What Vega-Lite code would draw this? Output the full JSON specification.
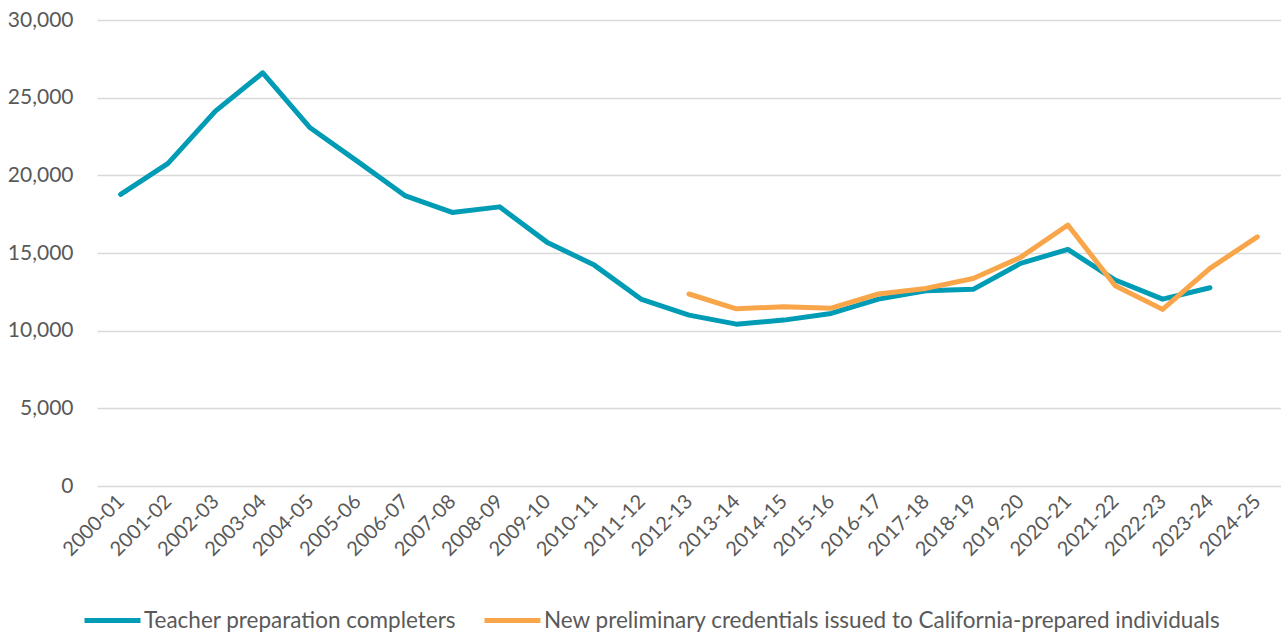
{
  "$schema": "https://vega.github.io/schema/vega-lite/v6.json",
  "width": 1184,
  "height": 466,
  "autosize": {"type": "none"},
  "padding": {"left": 97, "top": 20, "right": 0, "bottom": 147},
  "background": "white",
  "config": {
    "view": {"stroke": null},
    "font": "Lato",
    "axis": {"labelFont": "Lato", "labelColor": "#595959", "labelFontSize": 21},
    "legend": {"labelFont": "Lato", "labelColor": "#595959", "labelFontSize": 22.5}
  },
  "data": {
    "values": [
      {"year": "2000-01", "series": "Teacher preparation completers", "value": 18770},
      {"year": "2001-02", "series": "Teacher preparation completers", "value": 20770},
      {"year": "2002-03", "series": "Teacher preparation completers", "value": 24130},
      {"year": "2003-04", "series": "Teacher preparation completers", "value": 26600},
      {"year": "2004-05", "series": "Teacher preparation completers", "value": 23060},
      {"year": "2005-06", "series": "Teacher preparation completers", "value": 20900},
      {"year": "2006-07", "series": "Teacher preparation completers", "value": 18700},
      {"year": "2007-08", "series": "Teacher preparation completers", "value": 17610},
      {"year": "2008-09", "series": "Teacher preparation completers", "value": 17970},
      {"year": "2009-10", "series": "Teacher preparation completers", "value": 15700},
      {"year": "2010-11", "series": "Teacher preparation completers", "value": 14220},
      {"year": "2011-12", "series": "Teacher preparation completers", "value": 12010},
      {"year": "2012-13", "series": "Teacher preparation completers", "value": 11000},
      {"year": "2013-14", "series": "Teacher preparation completers", "value": 10420},
      {"year": "2014-15", "series": "Teacher preparation completers", "value": 10680},
      {"year": "2015-16", "series": "Teacher preparation completers", "value": 11110},
      {"year": "2016-17", "series": "Teacher preparation completers", "value": 12030},
      {"year": "2017-18", "series": "Teacher preparation completers", "value": 12570},
      {"year": "2018-19", "series": "Teacher preparation completers", "value": 12660},
      {"year": "2019-20", "series": "Teacher preparation completers", "value": 14330},
      {"year": "2020-21", "series": "Teacher preparation completers", "value": 15230},
      {"year": "2021-22", "series": "Teacher preparation completers", "value": 13260},
      {"year": "2022-23", "series": "Teacher preparation completers", "value": 12030},
      {"year": "2023-24", "series": "Teacher preparation completers", "value": 12760},
      {"year": "2012-13", "series": "New preliminary credentials issued to California-prepared individuals", "value": 12360},
      {"year": "2013-14", "series": "New preliminary credentials issued to California-prepared individuals", "value": 11410},
      {"year": "2014-15", "series": "New preliminary credentials issued to California-prepared individuals", "value": 11540},
      {"year": "2015-16", "series": "New preliminary credentials issued to California-prepared individuals", "value": 11450},
      {"year": "2016-17", "series": "New preliminary credentials issued to California-prepared individuals", "value": 12360},
      {"year": "2017-18", "series": "New preliminary credentials issued to California-prepared individuals", "value": 12720},
      {"year": "2018-19", "series": "New preliminary credentials issued to California-prepared individuals", "value": 13360},
      {"year": "2019-20", "series": "New preliminary credentials issued to California-prepared individuals", "value": 14720},
      {"year": "2020-21", "series": "New preliminary credentials issued to California-prepared individuals", "value": 16800},
      {"year": "2021-22", "series": "New preliminary credentials issued to California-prepared individuals", "value": 12890},
      {"year": "2022-23", "series": "New preliminary credentials issued to California-prepared individuals", "value": 11370},
      {"year": "2023-24", "series": "New preliminary credentials issued to California-prepared individuals", "value": 14010},
      {"year": "2024-25", "series": "New preliminary credentials issued to California-prepared individuals", "value": 16040}
    ]
  },
  "mark": {"type": "line", "strokeWidth": 5, "strokeCap": "round", "strokeJoin": "round"},
  "encoding": {
    "x": {
      "field": "year",
      "type": "ordinal",
      "sort": null,
      "scale": {"type": "point", "padding": 0.5},
      "axis": {
        "title": null,
        "labelAngle": -45,
        "labelAlign": "right",
        "labelBaseline": "middle",
        "labelPadding": 12,
        "labelFontSize": 20,
        "ticks": false,
        "domain": false,
        "grid": false
      }
    },
    "y": {
      "field": "value",
      "type": "quantitative",
      "scale": {"domain": [0, 30000], "nice": false},
      "axis": {
        "title": null,
        "values": [0, 5000, 10000, 15000, 20000, 25000, 30000],
        "format": ",d",
        "ticks": false,
        "domain": false,
        "grid": true,
        "gridColor": "#d9d9d9",
        "gridWidth": 1.5,
        "labelPadding": 24
      }
    },
    "color": {
      "field": "series",
      "type": "nominal",
      "scale": {
        "domain": ["Teacher preparation completers", "New preliminary credentials issued to California-prepared individuals"],
        "range": ["#009bb5", "#f9a54a"]
      },
      "legend": {
        "title": null,
        "orient": "none",
        "direction": "horizontal",
        "legendX": -15,
        "legendY": 570,
        "symbolType": "stroke",
        "symbolSize": 3136,
        "symbolStrokeWidth": 5,
        "symbolOffset": 0,
        "labelOffset": 1,
        "columnPadding": 17,
        "labelLimit": 900
      }
    }
  }
}
